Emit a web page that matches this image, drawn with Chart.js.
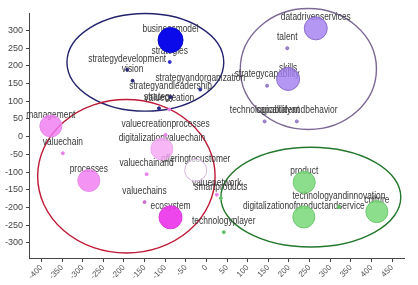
<!DOCTYPE html>
<html>
<head>
<meta charset="utf-8">
<script src="https://cdn.jsdelivr.net/npm/chart.js@4.4.0/dist/chart.umd.min.js"></script>
<style>
  html, body { margin: 0; padding: 0; background: #fff; }
  #wrap { width: 418px; height: 285px; }
</style>
</head>
<body>
<div id="wrap"><canvas id="grafico"></canvas></div>
<script>
// tick labels
const xTicks = [-400, -350, -300, -250, -200, -150, -100, -50, 0, 50, 100, 150, 200, 250, 300, 350, 400, 450];
const yTicks = [-300, -250, -200, -150, -100, -50, 0, 50, 100, 150, 200, 250, 300];

// grupo azul (estrategia)
const blueNames = ['businessmodel', 'strategies', 'strategydevelopment', 'vision', 'strategyandorganization', 'strategyandleadership', 'strategy'];
const blueX = [-87, -89, -192, -179, -15, -87, -115];
const blueY = [273, 211, 189, 158, 133, 112, 80];
const blueSize = [12.5, 1.5, 1.5, 1.5, 1.5, 1.5, 1.5];

// grupo morado (capacidades)
const purpleNames = ['datadrivenservices', 'talent', 'skills', 'strategycapability', 'technologicaltalent', 'capabilityandbehavior'];
const purpleX = [265, 196, 198, 147, 141, 219];
const purpleY = [306, 250, 163, 144, 43, 43];
const purpleSize = [11.5, 1.5, 11.5, 1.5, 1.5, 1.5];

// grupo rojo (cadena de valor)
const redNames = ['management', 'valuechain', 'processes', 'valuecreationprocesses', 'digitalizationvaluechain', 'valuechainand', 'offeringtocustomer', 'valuechains', 'ecosystem', 'valuenetwork', 'valuecreation'];
const redX = [-377, -348, -285, -99, -108, -145, -26, -150, -87, 25, -90];
const redY = [30, -47, -124, 5, -35, -106, -95, -185, -228, -164, 77];
const redSize = [11, 1.5, 11, 1.5, 11, 1.5, 11, 1.5, 11.5, 1.5, 1.5];

// grupo verde (producto)
const greenNames = ['product', 'digitalizationofproductandservice', 'technologyandinnovation', 'culture', 'smartproducts', 'technologyplayer'];
const greenX = [237, 236, 321, 413, 35, 42];
const greenY = [-129, -227, -199, -212, -174, -270];
const greenSize = [11, 11, 1.5, 11, 1.5, 1.5];

// elipses de cada grupo: azul, morado, rojo, verde
const ringCx = [-148, 247, -194, 253];
const ringCy = [210, 191, -112, -171];
const ringRx = [190, 165, 215, 218];
const ringRy = [138, 171, 217, 141];
const ringColors = ['rgb(35,35,110)', 'rgb(125,105,150)', 'rgb(190,25,55)', 'rgb(35,120,45)'];

const puntos = (xs, ys, rs) => xs.map((x, i) => ({ x: x, y: ys[i], r: rs[i] }));

const allNames = [blueNames, purpleNames, redNames, greenNames];

const ringPlugin = {
  id: 'rings',
  beforeDatasetsDraw(chart) {
    const ctx = chart.ctx;
    const sx = chart.scales.x, sy = chart.scales.y;
    ctx.save();
    ringCx.forEach((cx, i) => {
      const px = sx.getPixelForValue(cx);
      const py = sy.getPixelForValue(ringCy[i]);
      const rx = Math.abs(sx.getPixelForValue(cx + ringRx[i]) - px);
      const ry = Math.abs(sy.getPixelForValue(ringCy[i] + ringRy[i]) - py);
      ctx.beginPath();
      ctx.ellipse(px, py, rx, ry, 0, 0, Math.PI * 2);
      ctx.strokeStyle = ringColors[i];
      ctx.lineWidth = 1.4;
      ctx.stroke();
    });
    // etiquetas debajo de las burbujas
    ctx.font = '10px "Liberation Sans", Arial, sans-serif';
    ctx.fillStyle = 'rgb(55,55,55)';
    ctx.textAlign = 'center';
    ctx.textBaseline = 'middle';
    allNames.forEach((names, d) => {
      chart.getDatasetMeta(d).data.forEach((el, i) => {
        ctx.save();
        ctx.translate(el.x, el.y - 11);
        ctx.scale(0.84, 1);
        ctx.fillText(names[i], 0, 0);
        ctx.restore();
      });
    });
    ctx.restore();
  }
};

const ctx = document.getElementById('grafico').getContext('2d');

new Chart(ctx, {
  type: 'bubble',
  data: {
    datasets: [
      {
        label: 'strategy',
        data: puntos(blueX, blueY, blueSize),
        backgroundColor: ['rgb(10,10,235)', 'rgb(50,50,200)', 'rgb(40,40,120)', 'rgb(40,40,120)', 'rgb(50,50,160)', 'rgb(40,40,120)', 'rgb(40,40,140)'],
        borderColor: ['rgb(10,10,200)', 'rgb(50,50,200)', 'rgb(40,40,120)', 'rgb(40,40,120)', 'rgb(50,50,160)', 'rgb(40,40,120)', 'rgb(40,40,140)'],
        borderWidth: 1
      },
      {
        label: 'capability',
        data: puntos(purpleX, purpleY, purpleSize),
        backgroundColor: ['rgba(160,125,240,0.8)', 'rgb(160,140,190)', 'rgba(160,125,240,0.8)', 'rgb(160,140,190)', 'rgb(160,140,190)', 'rgb(160,140,190)'],
        borderColor: 'rgb(140,110,200)',
        borderWidth: 1
      },
      {
        label: 'valuechain',
        data: puntos(redX, redY, redSize),
        backgroundColor: ['rgba(240,120,240,0.8)', 'rgb(235,130,235)', 'rgba(240,120,240,0.8)', 'rgb(235,130,235)', 'rgba(245,165,245,0.8)', 'rgb(235,130,235)', 'rgba(255,255,255,0.6)', 'rgb(200,110,200)', 'rgba(235,50,235,0.9)', 'rgb(235,130,235)', 'rgb(235,130,235)'],
        borderColor: ['rgb(230,140,230)', 'rgb(235,130,235)', 'rgb(230,140,230)', 'rgb(235,130,235)', 'rgb(235,170,235)', 'rgb(235,130,235)', 'rgb(215,180,225)', 'rgb(200,110,200)', 'rgb(220,60,220)', 'rgb(235,130,235)', 'rgb(235,130,235)'],
        borderWidth: 1
      },
      {
        label: 'product',
        data: puntos(greenX, greenY, greenSize),
        backgroundColor: ['rgba(120,215,120,0.85)', 'rgba(120,215,120,0.85)', 'rgb(90,190,100)', 'rgba(120,215,120,0.85)', 'rgb(90,190,100)', 'rgb(90,190,100)'],
        borderColor: 'rgb(110,200,110)',
        borderWidth: 1
      }
    ]
  },
  options: {
    responsive: true,
    maintainAspectRatio: false,
    animation: false,
    layout: { padding: { top: 8, right: 1, left: 0, bottom: 0 } },
    plugins: {
      legend: { display: false },
      tooltip: { enabled: false }
    },
    scales: {
      x: {
        type: 'linear',
        min: -430,
        max: 480,
        afterBuildTicks: s => { s.ticks = xTicks.map(v => ({ value: v })); },
        afterFit: s => { s.height = 27; },
        ticks: {
          minRotation: 45,
          maxRotation: 45,
          padding: 1,
          color: 'rgb(80,80,80)',
          font: { family: '"Liberation Sans", Arial, sans-serif', size: 8 }
        },
        grid: { drawOnChartArea: false, color: 'rgb(70,70,70)', tickLength: 4 },
        border: { color: 'rgb(70,70,70)', width: 1 }
      },
      y: {
        type: 'linear',
        min: -343,
        max: 348,
        afterBuildTicks: s => { s.ticks = yTicks.map(v => ({ value: v })); },
        afterFit: s => { s.width = 29; },
        ticks: {
          padding: 3,
          color: 'rgb(70,70,70)',
          font: { family: '"Liberation Sans", Arial, sans-serif', size: 9 }
        },
        grid: { drawOnChartArea: false, color: 'rgb(70,70,70)', tickLength: 3 },
        border: { color: 'rgb(70,70,70)', width: 1 }
      }
    }
  },
  plugins: [ringPlugin]
});
</script>
</body>
</html>
